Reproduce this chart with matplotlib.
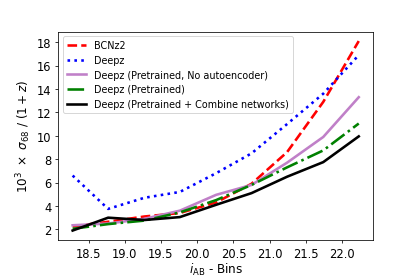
import matplotlib
matplotlib.use("Agg")
import matplotlib.pyplot as plt

# magnitude bin centres
i_bins = [18.28, 18.77, 19.27, 19.76, 20.26, 20.75, 21.24, 21.74, 22.23]

# 10^3 x sigma68 / (1+z) per bin
bcnz2 = [2.25, 2.65, 3.1, 3.4, 4.3, 5.9, 8.6, 12.9, 18.1]
deepz = [6.6, 3.75, 4.7, 5.2, 6.8, 8.5, 11.0, 13.6, 16.9]
deepz_no_ae = [2.35, 2.5, 2.9, 3.6, 4.95, 5.8, 7.7, 9.9, 13.3]
deepz_pre = [2.05, 2.45, 2.75, 3.45, 4.5, 5.8, 7.3, 8.75, 11.05]
deepz_comb = [1.9, 3.0, 2.8, 3.05, 4.1, 5.1, 6.5, 7.75, 9.95]

labels = ['BCNz2', 'Deepz', 'Deepz (Pretrained, No autoencoder)',
          'Deepz (Pretrained)', 'Deepz (Pretrained + Combine networks)']

fig = plt.figure(figsize=(6, 4), dpi=69.2)
ax = fig.add_axes([0.1405, 0.13, 0.758, 0.753])

ax.plot(i_bins, bcnz2, color='red', ls='--', lw=2.7, label=labels[0])
ax.plot(i_bins, deepz, color='blue', ls=':', lw=2.7, label=labels[1])
ax.plot(i_bins, deepz_no_ae, color='#c080c8', ls='-', lw=2.7, label=labels[2])
ax.plot(i_bins, deepz_pre, color='green', ls='-.', lw=2.7, label=labels[3])
ax.plot(i_bins, deepz_comb, color='black', ls='-', lw=2.7, label=labels[4])

ax.set_yticks([2, 4, 6, 8, 10, 12, 14, 16, 18])
ax.set_xticks([18.5, 19.0, 19.5, 20.0, 20.5, 21.0, 21.5, 22.0])
ax.tick_params(labelsize=12)

ax.set_xlabel(r'$i_{\rm AB}$ - Bins', fontsize=12.5, labelpad=1)
ax.set_ylabel(r'$10^3\ \times\ \sigma_{68}\ /\ (1+z)$', fontsize=12.5)

ax.legend(loc='upper left', fontsize=10)

fig.savefig('out.png', dpi=69.2)
